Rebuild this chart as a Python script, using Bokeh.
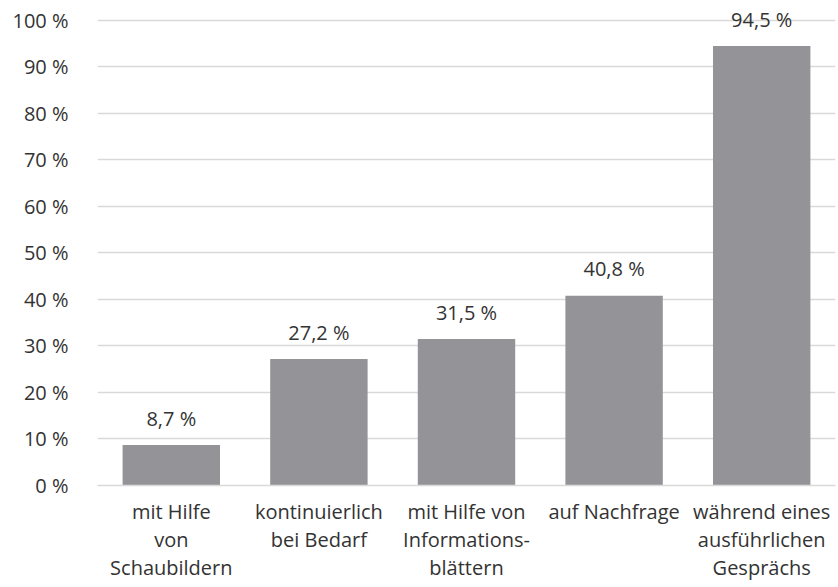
from bokeh.plotting import figure
from bokeh.models import ColumnDataSource, FixedTicker, Range1d
from bokeh.core.properties import value
from bokeh.embed import file_html
from bokeh.resources import INLINE

categories = [
    "mit Hilfe\nvon\nSchaubildern",
    "kontinuierlich\nbei Bedarf",
    "mit Hilfe von\nInformations-\nblättern",
    "auf Nachfrage",
    "während eines\nausführlichen\nGesprächs",
]
values = [8.7, 27.2, 31.5, 40.8, 94.5]
y_ticks = [0, 10, 20, 30, 40, 50, 60, 70, 80, 90, 100]
y_tick_labels = [f"{t} %" for t in y_ticks]

FONT = "Open Sans"
TEXT = "#333333"
GRID = "#d9d9d9"
BAR = "#949498"
FS = "20px"

src = ColumnDataSource(dict(
    x=categories,
    top=values,
    label=[f"{v:.1f}".replace(".", ",") + " %" for v in values],
))

p = figure(
    x_range=categories,
    y_range=Range1d(0, 104.3),
    width=836, height=585,
    output_backend="svg", toolbar_location=None,
    min_border_left=97, min_border_right=1,
    min_border_top=0, min_border_bottom=100,
)
p.outline_line_color = None
p.background_fill_color = "white"

p.vbar(x="x", top="top", width=0.66, source=src, fill_color=BAR, line_color=None)
p.text(x="x", y="top", text="label", source=src, text_align="center",
       text_baseline="middle", y_offset=-27, text_font=value(FONT),
       text_font_size=FS, text_color=TEXT)

p.yaxis.ticker = FixedTicker(ticks=y_ticks)
p.yaxis.major_label_overrides = {t: l for t, l in zip(y_ticks, y_tick_labels)}
p.yaxis.axis_line_color = None
p.yaxis.major_tick_line_color = None
p.yaxis.minor_tick_line_color = None
p.yaxis.major_label_standoff = 23
p.yaxis.major_label_text_font = FONT
p.yaxis.major_label_text_font_size = FS
p.yaxis.major_label_text_color = TEXT

p.xaxis.axis_line_color = GRID
p.xaxis.axis_line_width = 1.5
p.xaxis.major_tick_line_color = None
p.xaxis.minor_tick_line_color = None
p.xaxis.major_label_standoff = 6
p.xaxis.major_label_text_font = FONT
p.xaxis.major_label_text_font_size = FS
p.xaxis.major_label_text_color = TEXT
p.xaxis.major_label_text_line_height = 1.05

p.xgrid.grid_line_color = None
p.ygrid.grid_line_color = GRID
p.ygrid.grid_line_width = 1.5
p.ygrid.level = "underlay"

open("out.html", "w").write(file_html(p, INLINE))
